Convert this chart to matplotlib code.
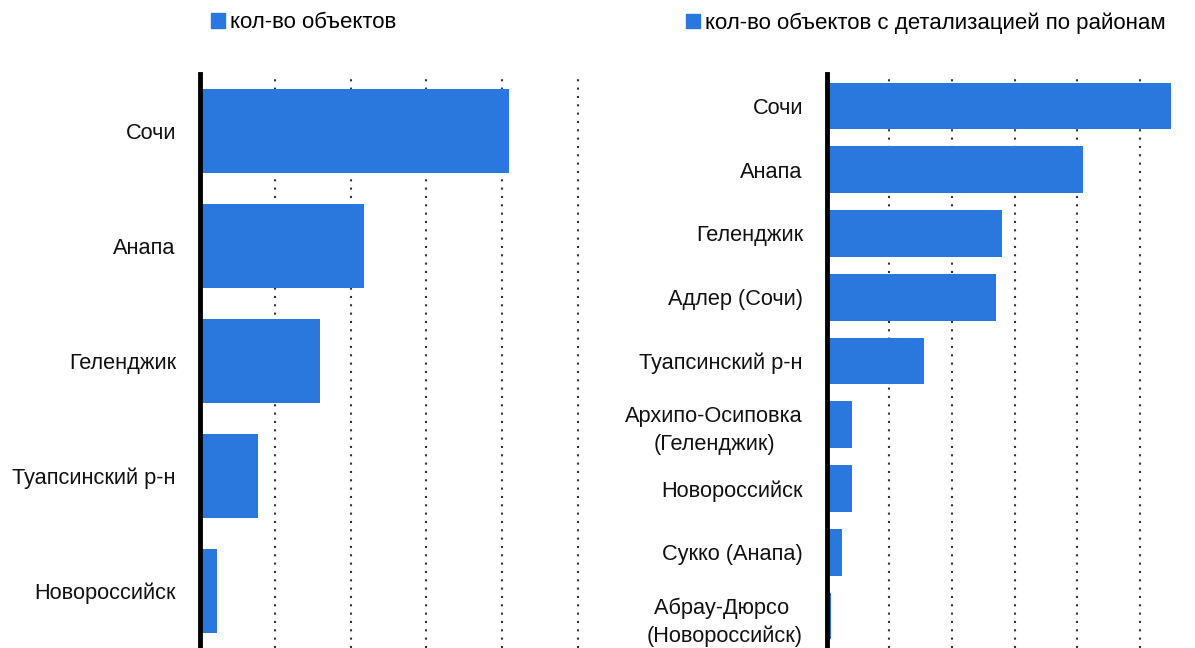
import numpy as np
import matplotlib.pyplot as plt
from matplotlib.patches import Patch

plt.rcParams['font.family'] = ['Liberation Sans', 'DejaVu Sans']

# left panel: totals by city
cities = ['Сочи', 'Анапа', 'Геленджик', 'Туапсинский р-н', 'Новороссийск']
counts = [164, 87, 64, 31, 9]

# right panel: split by district
districts = ['Сочи', 'Анапа', 'Геленджик', 'Адлер (Сочи)', 'Туапсинский р-н',
             'Архипо-Осиповка\n(Геленджик)', 'Новороссийск', 'Сукко (Анапа)',
             'Абрау-Дюрсо \n(Новороссийск)']
district_counts = [110, 82, 56, 54, 31, 8, 8, 5, 1.4]

left_label = 'кол-во объектов'
right_label = 'кол-во объектов с детализацией по районам'

bar_color = '#2a77dd'
W, H = 1195, 648

fig = plt.figure(figsize=(W / 100, H / 100), dpi=100)

def panel(rect, names, vals, xmax, ticks):
    ax = fig.add_axes(rect)
    y = np.arange(len(names))
    ax.barh(y, vals, height=0.73, color=bar_color, zorder=2)
    ax.set_ylim(len(names) - 0.5, -0.5)
    ax.set_xlim(0, xmax)
    ax.set_xticks(ticks)
    ax.set_xticklabels([])
    ax.tick_params(axis='x', length=0)
    ax.set_yticks(y)
    ax.set_yticklabels(names, fontsize=15.7, color='#111111',
                       multialignment='center', linespacing=1.45)
    ax.tick_params(axis='y', length=0, pad=17)
    ax.grid(axis='x', color='#333333', linestyle=(0, (1, 3)), linewidth=1.5, zorder=0)
    for gl in ax.get_xgridlines():
        gl.set_clip_on(False)
    ax.set_axisbelow(True)
    for s in ['top', 'right', 'bottom']:
        ax.spines[s].set_visible(False)
    ax.spines['left'].set_linewidth(3.5)
    ax.spines['left'].set_color('black')
    ax.spines['left'].set_zorder(3)
    return ax

top = 74
ax1 = panel([199.5 / W, 0, 378 / W, (H - top) / H], cities, counts, 200,
            [40, 80, 120, 160, 200])
ax2 = panel([826.5 / W, 0, (W - 826.5) / W, (H - top) / H], districts,
            district_counts, 117.6, [20, 40, 60, 80, 100])

for x0, lab in [(211, left_label), (686, right_label)]:
    fig.legend(handles=[Patch(color=bar_color, label=lab)], loc='center left',
               bbox_to_anchor=(x0 / W, 1 - 23 / H), frameon=False,
               fontsize=16, handlelength=0.65, handleheight=0.65,
               handletextpad=0.2, borderpad=0, borderaxespad=0)

fig.savefig('out.png', dpi=100)
